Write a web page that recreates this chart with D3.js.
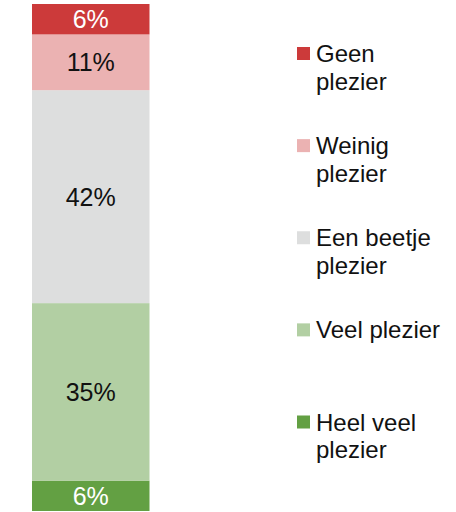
<!DOCTYPE html>
<html>
<head>
<meta charset="utf-8">
<script src="https://cdn.jsdelivr.net/npm/d3@7"></script>
<style>
  html, body { margin: 0; padding: 0; background: #fff; }
  svg { display: block; font-family: "Liberation Sans", Arial, sans-serif; }
</style>
</head>
<body>
<svg id="chart" width="456" height="512"></svg>
<script>
// Answer categories, top of the stack first
const categories = ["Geen plezier", "Weinig plezier", "Een beetje plezier", "Veel plezier", "Heel veel plezier"];
// Share of respondents per category (%)
const values = [6, 11, 42, 35, 6];
// Legend lines per category
const legendLines = [["Geen", "plezier"], ["Weinig", "plezier"], ["Een beetje", "plezier"], ["Veel plezier"], ["Heel veel", "plezier"]];
const colors = ["#cc3a3a", "#ebb2b2", "#dddede", "#b2cfa3", "#63a043"];
const labelColors = ["#ffffff", "#111111", "#111111", "#111111", "#ffffff"];

const svg = d3.select("#chart");

// Stack from the bottom: last category sits at 0
const order = d3.range(categories.length).reverse();
let acc = 0;
const segs = order.map(i => {
  const s = { i, y0: acc, y1: acc + values[i] };
  acc += values[i];
  return s;
});

const y = d3.scaleLinear().domain([0, 100]).range([511, 4]);
const x = d3.scaleBand().domain(["all"]).range([32, 149.5]).padding(0);

const bar = svg.append("g");
bar.selectAll("rect")
  .data(segs)
  .join("rect")
  .attr("x", x("all"))
  .attr("width", x.bandwidth())
  .attr("y", d => y(d.y1))
  .attr("height", d => y(d.y0) - y(d.y1))
  .attr("fill", d => colors[d.i]);

bar.selectAll("text")
  .data(segs)
  .join("text")
  .attr("x", x("all") + x.bandwidth() / 2)
  .attr("y", d => (y(d.y0) + y(d.y1)) / 2)
  .attr("dy", "0.36em")
  .attr("text-anchor", "middle")
  .attr("font-size", 25)
  .attr("fill", d => labelColors[d.i])
  .text(d => values[d.i] + "%");

// Legend, one item per category
const legendY = d3.scalePoint().domain(categories).range([53.5, 422]);
const item = svg.append("g").selectAll("g")
  .data(categories)
  .join("g")
  .attr("transform", d => `translate(297,${legendY(d)})`);

item.append("rect")
  .attr("x", 0).attr("y", -6.5)
  .attr("width", 13).attr("height", 13)
  .attr("fill", (d, i) => colors[i]);

item.append("text")
  .attr("x", 19)
  .attr("y", 8.5)
  .attr("font-size", 24)
  .attr("fill", "#111111")
  .selectAll("tspan")
  .data((d, i) => legendLines[i])
  .join("tspan")
  .attr("x", 19)
  .attr("dy", (d, j) => j === 0 ? 0 : 27.5)
  .text(d => d);
</script>
</body>
</html>
